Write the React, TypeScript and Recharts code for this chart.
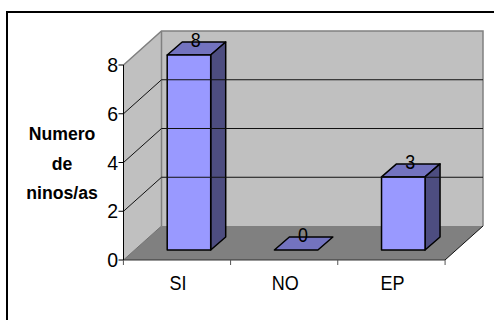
import React from 'react';
import { BarChart, Bar, XAxis, YAxis, LabelList, ReferenceArea, ReferenceLine, Label } from 'recharts';

const categories = ['SI', 'NO', 'EP'];
const values = [8, 0, 3];
const yTicks = [0, 2, 4, 6, 8];
const titleLines = ['Numero', 'de', 'ninos/as'];

const chartData = categories.map((name, i) => ({ name, value: values[i] }));

const FONT = '"Liberation Sans", Arial, sans-serif';
const DEPTH_X = 38; // wall depth
const DEPTH_Y = 34;
const BAR_SHIFT_X = 11.7; // bars stand a bit into the floor
const BAR_SHIFT_Y = 10;
const BAR_DEPTH_X = 15;
const BAR_DEPTH_Y = 13;

const pts = (list: number[][]) => list.map(p => p.join(',')).join(' ');

// the original text is squeezed sideways, so draw it taller and scale x down
const SqueezedText = ({ x, y, size, squeeze, anchor = 'middle', bold = false, children }: any) => (
  <text
    transform={`translate(${x},${y}) scale(${squeeze},1)`}
    textAnchor={anchor}
    fontSize={size}
    fontWeight={bold ? 'bold' : 'normal'}
    fontFamily={FONT}
    fill="#000"
  >
    {children}
  </text>
);

const Walls = ({ x, y, width, height }: any) => {
  const r = x + width;
  const b = y + height;
  return (
    <g>
      <polygon points={pts([[x, y], [x + DEPTH_X, y - DEPTH_Y], [x + DEPTH_X, b - DEPTH_Y], [x, b]])} fill="#c0c0c0" />
      <rect x={x + DEPTH_X} y={y - DEPTH_Y} width={width} height={height} fill="#c0c0c0" />
      <polygon points={pts([[x, b], [x + DEPTH_X, b - DEPTH_Y], [r + DEPTH_X, b - DEPTH_Y], [r, b]])} fill="#808080" />
      <polyline
        points={pts([[x, y], [x + DEPTH_X, y - DEPTH_Y], [r + DEPTH_X, y - DEPTH_Y], [r + DEPTH_X, b - DEPTH_Y]])}
        fill="none"
        stroke="#808080"
        strokeWidth={1.5}
      />
      <line x1={x + DEPTH_X} y1={y - DEPTH_Y} x2={x + DEPTH_X} y2={b - DEPTH_Y} stroke="#808080" strokeWidth={1.5} />
      <line x1={x} y1={b} x2={x + DEPTH_X} y2={b - DEPTH_Y} stroke="#707070" />
      <line x1={r} y1={b} x2={r + DEPTH_X} y2={b - DEPTH_Y} stroke="#111" />
    </g>
  );
};

const GridLine = ({ x1, y1, x2, y2 }: any) => (
  <polyline
    points={pts([[x1, y1], [x1 + DEPTH_X, y1 - DEPTH_Y], [x2 + DEPTH_X, y2 - DEPTH_Y]])}
    fill="none"
    stroke="#111"
  />
);

const Box3D = ({ x, y, width, height }: any) => {
  const l = x + BAR_SHIFT_X;
  const t = y - BAR_SHIFT_Y;
  const r = l + width;
  const b = t + height;
  return (
    <g stroke="#000" strokeWidth={1.5} strokeLinejoin="round">
      <polygon points={pts([[l, t], [l + BAR_DEPTH_X, t - BAR_DEPTH_Y], [r + BAR_DEPTH_X, t - BAR_DEPTH_Y], [r, t]])} fill="#7373bf" />
      {height > 0 && (
        <polygon points={pts([[r, t], [r + BAR_DEPTH_X, t - BAR_DEPTH_Y], [r + BAR_DEPTH_X, b - BAR_DEPTH_Y], [r, b]])} fill="#4d4d80" />
      )}
      {height > 0 && <rect x={l} y={t} width={width} height={height} fill="#9999ff" />}
    </g>
  );
};

const XTick = ({ x, y, payload, index }: any) => {
  const band = 322 / categories.length;
  return (
    <g>
      <line x1={x - band / 2} y1={y - 8} x2={x - band / 2} y2={y - 3} stroke="#555" />
      {index === categories.length - 1 && (
        <line x1={x + band / 2} y1={y - 8} x2={x + band / 2} y2={y - 3} stroke="#555" />
      )}
      <SqueezedText x={x + 1} y={y + 22} size={20} squeeze={0.9}>
        {payload.value}
      </SqueezedText>
    </g>
  );
};

const YTick = ({ x, y, payload }: any) => (
  <SqueezedText x={x + 0.5} y={y + 7} size={21} squeeze={0.93} anchor="end">
    {payload.value}
  </SqueezedText>
);

const BarValue = ({ x, y, width, value }: any) => (
  <SqueezedText x={x + width / 2 + 18.5} y={y - 18} size={21} squeeze={0.85}>
    {value}
  </SqueezedText>
);

const AxisTitle = () => (
  <g>
    {titleLines.map((line, i) => (
      <SqueezedText key={line} x={62} y={140 + i * 29.5} size={19} squeeze={0.93} bold>
        {line}
      </SqueezedText>
    ))}
  </g>
);

export default function App() {
  return (
    <div style={{ position: 'absolute', left: 0, top: 0, width: 494, height: 320, background: '#fff' }}>
      <div style={{ position: 'absolute', left: 6, top: 11, right: 0, bottom: 0, borderLeft: '2px solid #000', borderTop: '2px solid #000' }} />
      <BarChart
        width={494}
        height={320}
        data={chartData}
        margin={{ top: 65, right: 49, bottom: 0, left: 0 }}
        barSize={43.5}
        style={{ position: 'absolute', left: 0, top: 0 }}
      >
        <ReferenceArea y1={0} y2={8} ifOverflow="visible" shape={Walls} />
        {yTicks.slice(1, -1).map(t => (
          <ReferenceLine key={t} y={t} ifOverflow="visible" shape={GridLine} />
        ))}
        <XAxis
          dataKey="name"
          height={60}
          axisLine={{ stroke: '#333', strokeWidth: 1 }}
          tickLine={false}
          tick={<XTick />}
          interval={0}
        />
        <YAxis
          width={123.5}
          domain={[0, 8]}
          ticks={yTicks}
          axisLine={{ stroke: '#000', strokeWidth: 1 }}
          tickSize={5}
          tickLine={{ stroke: '#000' }}
          tick={<YTick />}
          tickMargin={1}
        >
          <Label content={<AxisTitle />} />
        </YAxis>
        <Bar dataKey="value" shape={<Box3D />} isAnimationActive={false}>
          <LabelList dataKey="value" content={<BarValue />} />
        </Bar>
      </BarChart>
    </div>
  );
}
